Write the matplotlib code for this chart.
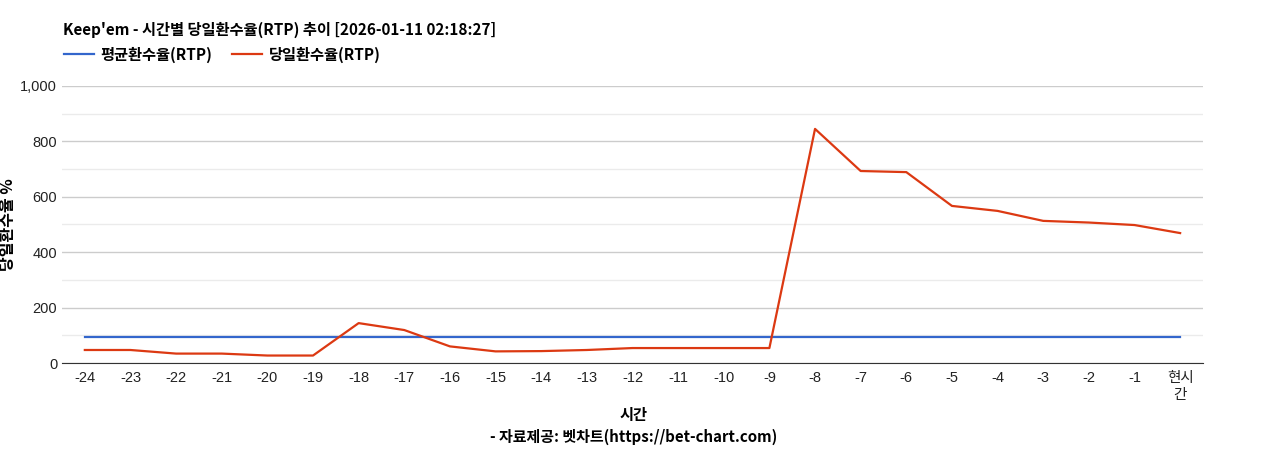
import matplotlib
matplotlib.use('Agg')
import matplotlib.pyplot as plt
from matplotlib.ticker import FuncFormatter, MultipleLocator

plt.rcParams['font.family'] = ['Liberation Sans', 'Noto Sans CJK KR', 'DejaVu Sans']

hours = ['-24', '-23', '-22', '-21', '-20', '-19', '-18', '-17', '-16', '-15', '-14', '-13',
         '-12', '-11', '-10', '-9', '-8', '-7', '-6', '-5', '-4', '-3', '-2', '-1', '현시\n간']
avg_rtp = [95] * len(hours)
day_rtp = [47, 47, 34, 34, 27, 27, 144, 119, 60, 42, 43, 47,
           54, 54, 54, 54, 845, 693, 689, 567, 549, 513, 507, 498, 469]

BLUE = '#3366cc'
RED = '#dc3912'
KR = ['Noto Sans CJK KR', 'DejaVu Sans']

fig = plt.figure(figsize=(12.68, 4.5), dpi=100)
ax = fig.add_axes([0.0489, 0.1933, 0.8998, 0.6157])

x = range(len(hours))
l1, = ax.plot(x, avg_rtp, color=BLUE, lw=1.6, label='평균환수율(RTP)')
l2, = ax.plot(x, day_rtp, color=RED, lw=1.6, label='당일환수율(RTP)')

ax.set_xlim(-0.5, len(hours) - 0.5)
ax.set_ylim(0, 1000)
ax.yaxis.set_major_locator(MultipleLocator(200))
ax.yaxis.set_minor_locator(MultipleLocator(100))
ax.yaxis.set_major_formatter(FuncFormatter(lambda v, p: f'{int(v):,}'))
ax.grid(axis='y', which='major', color='#cccccc', lw=1)
ax.grid(axis='y', which='minor', color='#ebebeb', lw=1)
ax.set_axisbelow(True)
for s in ['top', 'right', 'left']:
    ax.spines[s].set_visible(False)
ax.spines['bottom'].set_color('#333333')
ax.tick_params(axis='both', which='both', length=0, labelsize=10.5, colors='#222222')
ax.tick_params(axis='x', pad=6)
ax.set_xticks(list(x))
ax.set_xticklabels(hours, family=['Liberation Sans', 'Noto Sans CJK KR'])

ax.set_ylabel('당일환수율 %', family=KR, fontsize=11.5, fontweight='bold', va='center')
ax.yaxis.set_label_coords(-0.047, 0.5)
fig.text(0.4995, 0.077, '시간', family=KR, fontsize=11, fontweight='bold',
         ha='center', va='center')
fig.text(0.4995, 0.029, '- 자료제공: 벳차트(https://bet-chart.com)', family=KR,
         fontsize=10.8, fontweight='bold', ha='center', va='center')

fig.text(0.0497, 0.933, "Keep'em - 시간별 당일환수율(RTP) 추이 [2026-01-11 02:18:27]",
         family=KR, fontsize=11, fontweight='bold', ha='left', va='center')
fig.legend(handles=[l1, l2], loc='center left', bbox_to_anchor=(0.0395, 0.878),
           ncol=2, frameon=False, handlelength=1.95, handletextpad=0.46,
           columnspacing=1.3,
           prop={'family': KR, 'size': 11, 'weight': 'bold'})

fig.savefig('out.png', dpi=100)
